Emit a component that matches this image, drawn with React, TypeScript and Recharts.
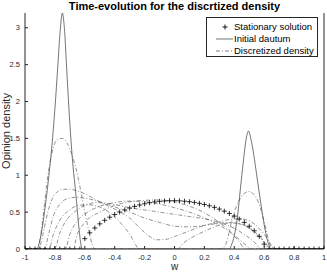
import React from "react";
import { LineChart, Line, XAxis, YAxis } from "recharts";

const FONT = '"Liberation Sans", Arial, Helvetica, sans-serif';
const INK = "#262626";

const xTicks = [-1, -0.8, -0.6, -0.4, -0.2, 0, 0.2, 0.4, 0.6, 0.8, 1];
const yTicks = [0, 0.5, 1, 1.5, 2, 2.5, 3];

// [w, density] pairs
const stationary: [number, number][] = [
  [-1, 0], [-0.967, 0], [-0.933, 0], [-0.9, 0], [-0.867, 0], [-0.833, 0], [-0.8, 0], [-0.767, 0], [-0.733, 0],
  [-0.7, 0], [-0.667, 0], [-0.633, 0],
  [-0.6, 0.14], [-0.567, 0.219], [-0.533, 0.285], [-0.5, 0.341], [-0.467, 0.389], [-0.433, 0.431], [-0.4, 0.468],
  [-0.367, 0.501], [-0.333, 0.53], [-0.3, 0.555], [-0.267, 0.578], [-0.233, 0.597], [-0.2, 0.613], [-0.167, 0.627],
  [-0.133, 0.638], [-0.1, 0.646], [-0.067, 0.651], [-0.033, 0.654], [0, 0.655], [0.033, 0.653], [0.067, 0.648],
  [0.1, 0.641], [0.133, 0.632], [0.167, 0.619], [0.2, 0.604], [0.233, 0.586], [0.267, 0.565], [0.3, 0.541],
  [0.333, 0.513], [0.367, 0.482], [0.4, 0.446], [0.433, 0.406], [0.467, 0.361], [0.5, 0.309], [0.533, 0.247],
  [0.567, 0.172], [0.6, 0.066],
  [0.633, 0], [0.667, 0], [0.7, 0], [0.733, 0], [0.767, 0], [0.8, 0], [0.833, 0], [0.867, 0], [0.9, 0],
  [0.933, 0], [0.967, 0], [1, 0],
];

const initialDatum: [number, number][] = [
  [-1, 0], [-0.92, 0], [-0.9, 0.12], [-0.88, 0.35], [-0.86, 0.65], [-0.84, 1.0], [-0.82, 1.4], [-0.8, 1.9],
  [-0.78, 2.5], [-0.765, 2.95], [-0.75, 3.2], [-0.735, 2.95], [-0.72, 2.4], [-0.7, 1.7], [-0.68, 1.15],
  [-0.66, 0.75], [-0.64, 0.3], [-0.625, 0.05], [-0.615, 0], [0.37, 0], [0.38, 0.05], [0.4, 0.18], [0.42, 0.42],
  [0.44, 0.8], [0.46, 1.18], [0.48, 1.5], [0.495, 1.6], [0.51, 1.5], [0.53, 1.28], [0.55, 1.0], [0.57, 0.72],
  [0.59, 0.45], [0.61, 0.22], [0.63, 0.06], [0.645, 0], [1, 0],
];

const snap1: [number, number][] = [
  [-1, 0], [-0.93, 0], [-0.91, 0.05], [-0.89, 0.25], [-0.87, 0.6], [-0.85, 0.95], [-0.83, 1.2], [-0.81, 1.38],
  [-0.78, 1.49], [-0.75, 1.5], [-0.72, 1.44], [-0.69, 1.3], [-0.66, 1.1], [-0.63, 0.82], [-0.6, 0.5],
  [-0.57, 0.22], [-0.55, 0.06], [-0.53, 0], [0.31, 0], [0.34, 0.05], [0.36, 0.18], [0.38, 0.36], [0.4, 0.5],
  [0.43, 0.65], [0.46, 0.74], [0.495, 0.78], [0.53, 0.74], [0.56, 0.64], [0.58, 0.52], [0.6, 0.37],
  [0.62, 0.2], [0.64, 0.05], [0.655, 0], [1, 0],
];

const snap2: [number, number][] = [
  [-1, 0], [-0.91, 0], [-0.88, 0.2], [-0.85, 0.48], [-0.82, 0.67], [-0.78, 0.78], [-0.74, 0.81], [-0.7, 0.81],
  [-0.64, 0.78], [-0.58, 0.73], [-0.52, 0.66], [-0.45, 0.59], [-0.38, 0.52], [-0.3, 0.42], [-0.24, 0.3],
  [-0.18, 0.19], [-0.12, 0.125], [-0.06, 0.13], [0, 0.17], [0.08, 0.23], [0.15, 0.285], [0.22, 0.33],
  [0.3, 0.37], [0.37, 0.4], [0.43, 0.41], [0.49, 0.39], [0.54, 0.33], [0.58, 0.25], [0.62, 0.14],
  [0.65, 0.04], [0.665, 0], [1, 0],
];

const snap3: [number, number][] = [
  [-1, 0], [-0.84, 0], [-0.81, 0.2], [-0.77, 0.38], [-0.71, 0.52], [-0.64, 0.59], [-0.58, 0.6], [-0.5, 0.57],
  [-0.42, 0.47], [-0.35, 0.33], [-0.3, 0.2], [-0.26, 0.06], [-0.24, 0], [0.02, 0], [0.06, 0.08], [0.12, 0.16],
  [0.2, 0.24], [0.28, 0.31], [0.36, 0.35], [0.42, 0.35], [0.48, 0.31], [0.54, 0.22], [0.59, 0.11], [0.63, 0],
  [1, 0],
];

const snap4: [number, number][] = [
  [-1, 0], [-0.87, 0], [-0.84, 0.22], [-0.81, 0.45], [-0.77, 0.6], [-0.72, 0.68], [-0.66, 0.7], [-0.6, 0.69],
  [-0.5, 0.64], [-0.4, 0.57], [-0.3, 0.5], [-0.2, 0.42], [-0.1, 0.36], [0, 0.31], [0.1, 0.3], [0.2, 0.32],
  [0.3, 0.35], [0.38, 0.36], [0.45, 0.33], [0.52, 0.26], [0.58, 0.15], [0.62, 0.05], [0.64, 0], [1, 0],
];

const snap5: [number, number][] = [
  [-1, 0], [-0.8, 0], [-0.77, 0.2], [-0.73, 0.37], [-0.67, 0.5], [-0.6, 0.59], [-0.52, 0.63], [-0.42, 0.61],
  [-0.3, 0.56], [-0.2, 0.53], [-0.1, 0.5], [0, 0.47], [0.1, 0.44], [0.2, 0.41], [0.3, 0.36], [0.4, 0.28],
  [0.48, 0.18], [0.54, 0.08], [0.58, 0], [1, 0],
];

const snap6: [number, number][] = [
  [-1, 0], [-0.73, 0], [-0.7, 0.2], [-0.65, 0.38], [-0.58, 0.5], [-0.5, 0.58], [-0.4, 0.63], [-0.3, 0.65],
  [-0.2, 0.64], [-0.1, 0.61], [0, 0.56], [0.1, 0.5], [0.2, 0.42], [0.3, 0.32], [0.38, 0.22], [0.45, 0.1],
  [0.5, 0.02], [0.52, 0], [1, 0],
];

const snap7: [number, number][] = [
  [-1, 0], [-0.68, 0], [-0.65, 0.2], [-0.6, 0.36], [-0.5, 0.5], [-0.4, 0.59], [-0.3, 0.64], [-0.2, 0.66],
  [-0.1, 0.665], [0, 0.64], [0.1, 0.58], [0.2, 0.49], [0.3, 0.36], [0.38, 0.22], [0.44, 0.08], [0.47, 0],
  [1, 0],
];

const discretized = [snap1, snap2, snap3, snap4, snap5, snap6, snap7];

const rows = (pts: [number, number][]) => pts.map(([w, v]) => ({ w, v }));

function Plus(props: any) {
  const { cx, cy, index } = props;
  if (cx == null || cy == null) return <g key={index} />;
  return (
    <path
      key={index}
      d={`M${cx - 2.5},${cy}H${cx + 2.5}M${cx},${cy - 2.5}V${cy + 2.5}`}
      stroke="#000"
      strokeWidth={0.8}
      fill="none"
    />
  );
}

export default function App() {
  return (
    <div style={{ position: "absolute", left: 0, top: 0, width: 327, height: 273, background: "#fff", fontFamily: FONT }}>
      <LineChart width={327} height={273} margin={{ top: 13, right: 0, bottom: 0, left: 0 }}>
        <XAxis
          xAxisId="b" type="number" dataKey="w" domain={[-1, 1]} ticks={xTicks} interval={0}
          height={24} stroke={INK} tickSize={-3} tickMargin={9}
          tick={{ fontSize: 7.5, fill: INK, fontFamily: FONT }} allowDataOverflow
        />
        <XAxis
          xAxisId="t" orientation="top" type="number" dataKey="w" domain={[-1, 1]} ticks={xTicks}
          interval={0} height={0} stroke={INK} tickSize={-3} tick={false} allowDataOverflow
        />
        <YAxis
          yAxisId="l" type="number" domain={[0, 3.2]} ticks={yTicks} interval={0} width={25}
          stroke={INK} tickSize={-3} tickMargin={8}
          tick={{ fontSize: 7.5, fill: INK, fontFamily: FONT }} allowDataOverflow
        />
        <YAxis
          yAxisId="r" orientation="right" type="number" domain={[0, 3.2]} ticks={yTicks} interval={0}
          width={3} stroke={INK} tickSize={-3} tick={false} allowDataOverflow
        />
        {discretized.map((d, i) => (
          <Line
            key={"d" + i} xAxisId="b" yAxisId="l" data={rows(d)} dataKey="v" type="monotone"
            stroke="#4a4a4a" strokeWidth={0.6} strokeDasharray="4 2 1 2" dot={false} activeDot={false}
            isAnimationActive={false}
          />
        ))}
        <Line
          xAxisId="b" yAxisId="l" data={rows(initialDatum)} dataKey="v" type="monotone"
          stroke="#3a3a3a" strokeWidth={0.7} dot={false} activeDot={false} isAnimationActive={false}
        />
        <Line
          xAxisId="b" yAxisId="l" data={rows(stationary)} dataKey="v" type="monotone"
          stroke="none" dot={Plus} activeDot={false} isAnimationActive={false}
        />
      </LineChart>

      <div style={{ position: "absolute", left: 25, width: 299, top: 0, textAlign: "center", fontSize: 11, fontWeight: "bold", lineHeight: "12px", color: "#000" }}>
        Time-evolution for the discrtized density
      </div>
      <div style={{ position: "absolute", left: 25, width: 299, top: 261, textAlign: "center", fontSize: 10, lineHeight: "12px", color: INK }}>
        w
      </div>
      <div style={{ position: "absolute", left: -34, top: 125, width: 80, textAlign: "center", fontSize: 11, lineHeight: "12px", color: INK, transform: "rotate(-90deg)", whiteSpace: "nowrap" }}>
        Opinion density
      </div>

      <div style={{ position: "absolute", left: 206, top: 17, width: 110, height: 38, border: `1px solid ${INK}`, background: "#fff", fontSize: 9.5, color: "#000" }}>
        {[
          { label: "Stationary solution", kind: "plus" },
          { label: "Initial dautum", kind: "solid" },
          { label: "Discretized density", kind: "dashdot" },
        ].map((r, i) => (
          <div key={r.label} style={{ position: "absolute", left: 0, top: 3 + i * 12, height: 12, display: "flex", alignItems: "center" }}>
            <svg width={27} height={12} style={{ display: "block" }}>
              {r.kind === "plus" && <path d="M15.5,6H20.5M18,3.5V8.5" stroke="#000" strokeWidth={0.9} />}
              {r.kind === "solid" && <line x1={9} x2={26} y1={6} y2={6} stroke="#3a3a3a" strokeWidth={0.7} />}
              {r.kind === "dashdot" && <line x1={9} x2={26} y1={6} y2={6} stroke="#4a4a4a" strokeWidth={0.7} strokeDasharray="4 2 1 2" />}
            </svg>
            <span style={{ lineHeight: "12px", whiteSpace: "nowrap" }}>{r.label}</span>
          </div>
        ))}
      </div>
    </div>
  );
}
